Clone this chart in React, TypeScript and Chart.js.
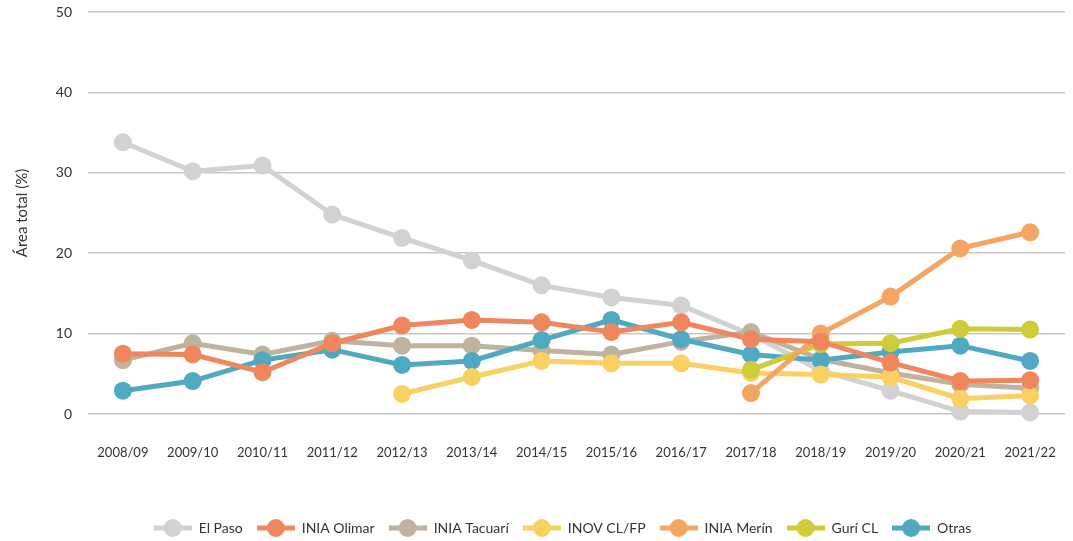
import React, { useEffect, useRef } from "react";
import { Chart, registerables } from "chart.js";

Chart.register(...registerables);

const categories = [
  "2008/09", "2009/10", "2010/11", "2011/12", "2012/13", "2013/14", "2014/15",
  "2015/16", "2016/17", "2017/18", "2018/19", "2019/20", "2020/21", "2021/22",
];

const elPaso = [33.8, 30.2, 30.9, 24.8, 21.9, 19.1, 16.0, 14.5, 13.5, 9.9, 5.4, 2.9, 0.3, 0.2];
const iniaOlimar = [7.5, 7.4, 5.2, 8.8, 11.0, 11.7, 11.4, 10.2, 11.4, 9.3, 9.0, 6.4, 4.1, 4.2];
const iniaTacuari = [6.7, 8.8, 7.4, 9.1, 8.5, 8.5, 7.9, 7.4, 9.0, 10.2, 6.8, 5.1, 3.7, 3.2];
const inovClFp = [null, null, null, null, 2.5, 4.6, 6.6, 6.3, 6.3, 5.1, 4.9, 4.6, 1.9, 2.3];
const iniaMerin = [null, null, null, null, null, null, null, null, null, 2.6, 10.0, 14.6, 20.6, 22.6];
const guriCl = [null, null, null, null, null, null, null, null, null, 5.5, 8.7, 8.8, 10.6, 10.5];
const otras = [2.9, 4.1, 6.7, 8.0, 6.1, 6.6, 9.2, 11.7, 9.3, 7.4, 6.7, 7.7, 8.5, 6.6];

const seriesNames = ["El Paso", "INIA Olimar", "INIA Tacuarí", "INOV CL/FP", "INIA Merín", "Gurí CL", "Otras"];
const seriesColors = ["#d2d2d2", "#f0865e", "#bfb29f", "#fbd062", "#f3a561", "#d0cc39", "#4ea9c1"];
const seriesOrder = [6, 0, 5, 3, 1, 2, 4];
const seriesValues = [elPaso, iniaOlimar, iniaTacuari, inovClFp, iniaMerin, guriCl, otras];

const yTicks = [0, 10, 20, 30, 40, 50];

const FONT = "Lato, 'Open Sans', sans-serif";
const TEXT = "#333333";
const BOTTOM_PAD = -4;
const LEGEND_SHIFT = 30;

function legendIcon(color: string): HTMLCanvasElement {
  const c = document.createElement("canvas");
  c.width = 38;
  c.height = 20;
  const ctx = c.getContext("2d")!;
  ctx.strokeStyle = color;
  ctx.lineWidth = 5;
  ctx.beginPath();
  ctx.moveTo(0, 10);
  ctx.lineTo(38, 10);
  ctx.stroke();
  ctx.fillStyle = color;
  ctx.beginPath();
  ctx.arc(19, 10, 9, 0, Math.PI * 2);
  ctx.fill();
  return c;
}

const shiftLegend = {
  id: "shiftLegend",
  afterLayout(chart: any) {
    if (chart.legend) {
      chart.legend.left += LEGEND_SHIFT;
      chart.legend.right += LEGEND_SHIFT;
    }
  },
};

export default function App() {
  const ref = useRef<HTMLCanvasElement | null>(null);

  useEffect(() => {
    document.body.style.margin = "0";
    const icons = seriesColors.map((c) => legendIcon(c));
    const chart = new Chart(ref.current!, {
      type: "line",
      plugins: [shiftLegend],
      data: {
        labels: categories,
        datasets: seriesNames.map((name, i) => ({
          label: name,
          data: seriesValues[i] as (number | null)[],
          borderColor: seriesColors[i],
          backgroundColor: seriesColors[i],
          pointBackgroundColor: seriesColors[i],
          pointBorderWidth: 0,
          pointRadius: 9,
          pointHoverRadius: 9,
          borderWidth: 5,
          tension: 0,
          fill: false,
          clip: false,
          order: seriesOrder[i],
        })),
      },
      options: {
        animation: false,
        responsive: true,
        maintainAspectRatio: false,
        layout: { autoPadding: false, padding: { top: 12, right: 8, left: 0, bottom: BOTTOM_PAD } },
        plugins: {
          tooltip: { enabled: false },
          legend: {
            position: "bottom",
            labels: {
              usePointStyle: true,
              pointStyleWidth: 38,
              padding: 14,
              color: TEXT,
              font: { family: FONT, size: 14 },
              sort: (a: any, b: any) => a.datasetIndex - b.datasetIndex,
              generateLabels: (ch: any) => {
                const items = Chart.defaults.plugins.legend.labels.generateLabels(ch);
                items.forEach((it: any) => {
                  it.pointStyle = icons[it.datasetIndex];
                });
                return items;
              },
            },
          },
        },
        scales: {
          x: {
            offset: true,
            grid: { display: false },
            border: { display: false },
            ticks: {
              color: TEXT,
              font: { family: FONT, size: 13 },
              padding: 23,
              maxRotation: 0,
              autoSkip: false,
            },
            afterFit: (scale: any) => {
              const lh = scale.chart.legend ? scale.chart.legend.height : 40;
              scale.height = 541 - 414 - lh - BOTTOM_PAD;
              scale.paddingLeft = 0;
              scale.paddingRight = 0;
            },
          },
          y: {
            min: 0,
            max: 50,
            afterBuildTicks: (scale: any) => {
              scale.ticks = yTicks.map((v) => ({ value: v }));
            },
            grid: { color: "#c8c8c8", lineWidth: 1.5, drawTicks: false },
            border: { display: false },
            ticks: {
              color: TEXT,
              font: { family: FONT, size: 14 },
              padding: 16,
            },
            title: {
              display: true,
              text: "Área total (%)",
              color: TEXT,
              font: { family: FONT, size: 15 },
              padding: { top: 13, bottom: 0 },
            },
            afterFit: (scale: any) => {
              scale.width = 88;
              scale.paddingTop = 8;
              scale.paddingBottom = 8;
            },
          },
        },
      },
    });
    return () => chart.destroy();
  }, []);

  return (
    <div style={{ position: "relative", width: 1073, height: 541 }}>
      <canvas ref={ref} />
    </div>
  );
}
